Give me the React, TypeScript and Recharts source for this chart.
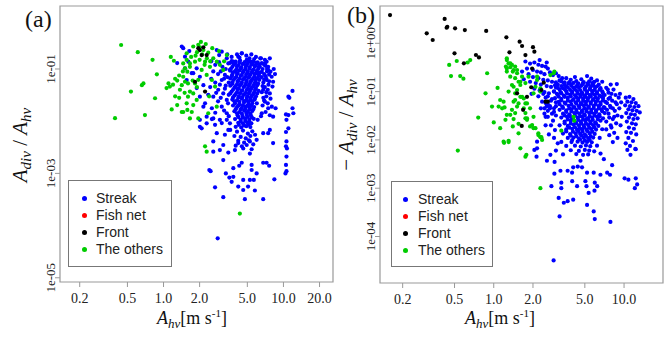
import { ScatterChart, Scatter, XAxis, YAxis, ReferenceArea, Legend } from 'recharts';

type Pt = [number, number];

const serif = "'Liberation Serif', 'DejaVu Serif', serif";
const sans = "'Liberation Sans', Arial, sans-serif";

// axis ticks (log scales)
const xTicksA = [0.2, 0.5, 1, 2, 5, 10, 20];
const yTicksA = [1e-1, 1e-3, 1e-5];
const xTicksB = [0.2, 0.5, 1, 2, 5, 10];
const yTicksB = [1, 1e-1, 1e-2, 1e-3, 1e-4];

const xDomainA: [number, number] = [0.137, 25.9];
const yDomainA: [number, number] = [8.3e-6, 1.61];
const xDomainB: [number, number] = [0.134, 19.9];
const yDomainB: [number, number] = [1.09e-5, 5.92];

const seriesNames = ['Streak', 'Fish net', 'Front', 'The others'];
const seriesColors = ['#0000ff', '#ff0000', '#000000', '#00cc00'];

// ---- panel (a): A_div / A_hv against A_hv ----
const streakA: Pt[] = [
  [3.7,0.142],[4.0,0.138],[4.35,0.145],[4.75,0.136],[5.15,0.141],[5.6,0.139],[6.1,0.134],
  [3.85,0.121],[4.2,0.118],[4.55,0.124],[4.95,0.119],[5.4,0.122],[5.85,0.117],[6.3,0.12],
  [3.65,0.101],[4.05,0.098],[4.4,0.103],[4.8,0.099],[5.2,0.102],[5.65,0.097],[6.15,0.1],
  [3.8,0.086],[4.15,0.083],[4.6,0.087],[5.0,0.084],[5.45,0.086],[5.9,0.082],[6.35,0.085],
  [3.7,0.073],[4.05,0.071],[4.4,0.074],[4.8,0.07],[5.2,0.072],[5.7,0.071],[6.2,0.073],
  [3.85,0.062],[4.2,0.06],[4.6,0.063],[4.95,0.059],[5.4,0.061],[5.85,0.06],[6.3,0.062],
  [3.75,0.052],[4.1,0.051],[4.45,0.053],[4.85,0.05],[5.25,0.052],[5.7,0.051],[6.15,0.053],
  [3.9,0.044],[4.25,0.043],[4.65,0.045],[5.05,0.042],[5.45,0.044],[5.9,0.043],
  [3.7,0.037],[4.1,0.036],[4.45,0.038],[4.85,0.035],[5.25,0.037],[5.7,0.036],[6.2,0.038],
  [3.9,0.031],[4.25,0.03],[4.65,0.032],[5.0,0.03],[5.45,0.031],[5.9,0.03],
  [3.75,0.026],[4.1,0.025],[4.5,0.027],[4.9,0.025],[5.3,0.026],[5.75,0.026],
  [3.95,0.022],[4.3,0.021],[4.7,0.023],[5.1,0.021],[5.5,0.022],[6.0,0.022],
  [4.1,0.0186],[4.5,0.018],[4.85,0.019],[5.25,0.0182],[5.7,0.0187],
  [3.9,0.0155],[4.3,0.015],[4.7,0.016],[5.05,0.0152],[5.5,0.0157],
  [4.15,0.013],[4.55,0.0126],[4.95,0.0133],[5.35,0.0128],
  [3.95,0.011],[4.4,0.0107],[4.8,0.0112],[5.2,0.0108],[5.65,0.0111],
  [4.2,0.0093],[4.6,0.009],[5.0,0.0094],[5.4,0.0091],
  [4.0,0.0078],[4.45,0.0076],[4.9,0.008],[5.3,0.0077],
  // denser middle of the main cloud
  [3.6,0.131],[3.95,0.128],[4.3,0.132],[4.65,0.127],[5.05,0.13],[5.5,0.128],[5.95,0.131],
  [3.75,0.11],[4.1,0.112],[4.45,0.108],[4.85,0.111],[5.25,0.109],[5.75,0.112],[6.2,0.109],
  [3.6,0.093],[3.95,0.091],[4.3,0.094],[4.65,0.092],[5.05,0.09],[5.5,0.093],[6.0,0.091],
  [3.75,0.078],[4.1,0.08],[4.5,0.077],[4.9,0.079],[5.3,0.078],[5.75,0.08],[6.25,0.077],
  [3.6,0.066],[3.95,0.067],[4.3,0.065],[4.7,0.066],[5.1,0.068],[5.55,0.065],[6.0,0.066],
  [3.75,0.056],[4.15,0.057],[4.5,0.055],[4.9,0.056],[5.35,0.057],[5.8,0.055],
  [3.6,0.048],[4.0,0.047],[4.35,0.049],[4.75,0.047],[5.15,0.048],[5.6,0.047],[6.05,0.049],
  [3.8,0.04],[4.15,0.041],[4.55,0.039],[4.95,0.04],[5.35,0.041],[5.8,0.04],
  [3.6,0.034],[4.0,0.033],[4.35,0.034],[4.75,0.033],[5.15,0.034],[5.6,0.033],[6.05,0.034],
  [3.8,0.0285],[4.2,0.028],[4.55,0.029],[4.95,0.0278],[5.35,0.0285],[5.8,0.028],
  [3.9,0.024],[4.3,0.0235],[4.7,0.0243],[5.1,0.0237],[5.5,0.024],
  [3.8,0.02],[4.2,0.0198],[4.6,0.0203],[5.0,0.0197],[5.4,0.0201],
  [4.0,0.017],[4.4,0.0167],[4.8,0.0172],[5.2,0.0168],[5.6,0.017],
  [4.1,0.0142],[4.5,0.014],[4.9,0.0144],[5.3,0.014],
  [4.2,0.012],[4.6,0.0118],[5.0,0.0121],[5.45,0.0119],
  [4.4,0.0099],[4.8,0.0101],[5.2,0.0098],
  [4.25,0.0085],[4.7,0.0083],[5.1,0.0086],
  [3.6,0.0068],[4.1,0.0063],[4.6,0.0066],[5.05,0.0058],[5.5,0.0064],[3.9,0.0052],[4.4,0.005],
  [4.85,0.0047],[5.3,0.0052],[5.8,0.0055],[4.2,0.0042],[4.7,0.0039],[5.15,0.0043],[4.5,0.0033],
  [4.0,0.0034],[5.6,0.0036],
  [3.7,0.17],[4.1,0.19],[4.5,0.2],[4.9,0.18],[5.4,0.19],[5.9,0.17],[6.4,0.16],[3.4,0.19],
  [7.0,0.15],[4.3,0.165],[5.2,0.16],[5.7,0.155],
  [1.51,0.172],[1.61,0.138],[1.46,0.25],[1.72,0.083],[1.56,0.0615],[1.89,0.103],[2.01,0.071],
  [2.15,0.049],[2.36,0.032],[2.22,0.022],[2.53,0.0177],[2.6,0.0295],[2.86,0.04],[3.06,0.0615],
  [3.25,0.077],[3.58,0.096],[3.47,0.128],[3.82,0.138],[4.2,0.172],[4.49,0.2],[4.94,0.149],
  [5.43,0.138],[5.98,0.128],[6.36,0.11],[7.0,0.128],[7.46,0.096],[7.98,0.071],[7.24,0.0615],
  [6.78,0.04],[7.7,0.034],[7.0,0.0237],[7.46,0.0177],[6.6,0.0142],[8.2,0.0122],[6.1,0.0106],
  [11.0,0.0295],[3.15,0.034],[3.37,0.0255],[3.06,0.019],[3.37,0.0142],[2.95,0.0106],[3.58,0.0091],
  [2.6,0.0113],[2.29,0.0091],[2.01,0.0078],[2.78,0.23],[3.06,0.215],[3.37,0.16],
  [1.42,0.27],[1.64,0.22],[1.3,0.13],[1.51,0.103],[1.77,0.083],[1.89,0.043],[2.01,0.0295],
  [2.15,0.019],[2.29,0.0122],[2.01,0.0106],[2.08,0.0073],[2.91,0.185],
  [7.24,0.138],[7.46,0.11],[7.8,0.089],[8.2,0.057],[8.1,0.046],[11.9,0.038],[11.2,0.028],
  [11.9,0.0177],[12.1,0.0142],[8.6,0.0177],[10.5,0.0135],[10.4,0.001],[10.5,0.0062],[10.7,0.003],
  [2.53,0.011],[2.69,0.0085],[3.06,0.0092],[3.37,0.0106],[3.47,0.0068],[3.25,0.0055],[2.78,0.0059],
  [2.6,0.0041],[3.15,0.0035],[2.95,0.0028],[3.47,0.0025],[3.94,0.0028],[4.2,0.0038],[4.62,0.003],
  [4.94,0.0035],[5.43,0.0029],[5.25,0.0041],[5.98,0.0044],[6.78,0.0059],[7.46,0.0059],[7.7,0.0068],
  [8.2,0.0038],[10.6,0.0041],[11.0,0.0073],[10.6,0.0106],[11.0,0.0131],[10.5,0.0033],[10.6,0.0021],
  [10.5,0.00145],[10.6,0.0011],[8.4,0.00077],[6.78,0.0016],[7.24,0.0016],[7.6,0.0014],[5.43,0.00116],
  [5.98,0.001],[5.25,0.00075],[5.66,0.00075],[4.62,0.00075],[4.2,0.00056],[4.62,0.00048],[5.07,0.00056],
  [5.78,0.00047],[3.7,0.00069],[3.54,0.00083],[3.82,0.00086],[3.31,0.001],[3.15,0.0018],[2.41,0.00116],
  [2.47,0.0011],[2.69,0.00054],[3.15,0.00035],[4.77,0.00032],[6.78,0.00032],[3.82,0.00126],
  [4.28,0.0014],[4.49,0.0016],[5.43,0.00145],[2.6,0.0026],[5.25,0.0024],[2.83,5.7e-5],
  [2.5,0.14],[2.7,0.12],[2.9,0.135],[3.1,0.11],[3.3,0.1],[2.6,0.09],[2.85,0.08],[3.0,0.09],
  [3.2,0.065],[3.4,0.07],[2.5,0.065],[2.7,0.055],[2.95,0.05],[3.3,0.048],[3.5,0.055],[2.45,0.045],
  [2.75,0.035],[3.0,0.028],[3.25,0.042],[3.5,0.032],[3.45,0.022],[2.85,0.024],[3.2,0.016],
  [3.5,0.0125],[2.7,0.0145],
  [6.6,0.13],[7.1,0.115],[6.7,0.1],[7.3,0.09],[6.9,0.08],[7.6,0.078],[6.6,0.07],[7.2,0.065],
  [6.8,0.055],[7.5,0.05],[7.0,0.045],[6.6,0.036],[7.2,0.03],[7.8,0.027],[6.8,0.028],[7.4,0.022],
  [6.7,0.02],[8.0,0.019],[7.1,0.015],[7.7,0.013],[6.5,0.0125],[8.3,0.1],[8.5,0.08],[6.5,0.16],[7.7,0.16],
  [6.9,0.12],[7.3,0.1],[6.6,0.088],[7.1,0.073],[6.9,0.062],[7.4,0.04],[6.7,0.047],[7.2,0.036],
  [6.9,0.025],[7.6,0.058],
];

const othersA: Pt[] = [
  [0.443,0.288],[0.61,0.21],[0.81,0.15],[1.15,0.17],[1.22,0.144],[0.88,0.079],[0.68,0.053],
  [0.66,0.049],[0.535,0.037],[0.85,0.0275],[1.1,0.053],[1.13,0.046],[1.06,0.043],[1.3,0.06],
  [1.42,0.049],[1.51,0.057],[1.37,0.04],[1.17,0.0168],[1.3,0.0204],[0.394,0.0114],[0.7,0.0131],
  [1.46,0.015],[1.58,0.0164],[1.6,0.0295],[1.66,0.037],[1.77,0.0204],[1.66,0.0113],[1.58,0.089],
  [1.66,0.11],[1.46,0.128],[1.56,0.149],[1.83,0.053],[1.95,0.062],
  [1.56,0.2],[1.77,0.27],[1.95,0.29],[2.01,0.26],[2.15,0.23],[2.36,0.205],[2.6,0.16],[2.78,0.138],
  [2.95,0.12],[3.37,0.185],[3.15,0.096],[1.51,0.103],[1.66,0.128],[1.83,0.138],[1.46,0.071],
  [1.6,0.053],[1.77,0.034],[1.89,0.0255],[1.56,0.022],[1.42,0.015],[1.72,0.015],[1.95,0.0113],
  [2.08,0.096],[2.29,0.077],[2.44,0.11],[2.22,0.138],[2.53,0.0615],[2.69,0.046],[2.78,0.019],
  [2.36,0.0142],[2.29,0.0026],[2.22,0.0033],[4.33,0.00017],
  [1.9,0.21],[2.1,0.19],[2.3,0.16],[2.0,0.15],[2.2,0.12],[1.85,0.18],[2.45,0.14],[2.05,0.33],
  [2.25,0.3],[1.7,0.17],[2.55,0.25],[2.9,0.22],[3.2,0.14],[1.75,0.06],[1.9,0.045],[2.4,0.03],
  [1.2,0.05],[1.25,0.065],[1.35,0.075],[1.45,0.09],[1.5,0.035],[1.35,0.028],[1.25,0.03],
];

const frontA: Pt[] = [
  [2.01,0.23],[2.08,0.185],[2.29,0.185],[1.83,0.057],[2.22,0.037],[2.15,0.26],[1.95,0.25],
];

const fishNetA: Pt[] = [];

// ---- panel (b): -A_div / A_hv against A_hv ----
const streakB: Pt[] = [
  [1.75,0.42],[1.9,0.38],[2.05,0.4],[2.2,0.36],[2.35,0.34],[2.5,0.33],[2.6,0.3],[1.8,0.3],
  [2.0,0.28],[2.15,0.26],[2.3,0.25],[2.45,0.23],[2.7,0.25],[2.85,0.22],[3.0,0.24],[3.15,0.21],
  [2.0,0.2],[2.2,0.19],[2.4,0.175],[2.6,0.17],[2.8,0.16],[3.0,0.155],[3.2,0.17],[1.7,0.18],
  [1.9,0.16],[2.1,0.15],[2.3,0.14],[2.55,0.13],[2.75,0.125],[2.95,0.135],[3.1,0.12],[2.05,0.115],
  [2.25,0.105],[2.45,0.098],[2.65,0.092],[2.9,0.1],[3.05,0.09],[2.2,0.08],[2.5,0.075],[2.8,0.07],
  [1.95,0.09],[2.35,0.062],[2.6,0.055],[3.0,0.06],[1.85,0.23],[1.65,0.26],[2.25,0.45],[2.55,0.4],
  [3.35,0.19],[3.5,0.155],
  [3.6,0.19],[4.2,0.2],[4.7,0.18],[5.2,0.21],[5.6,0.185],[6.2,0.17],[6.8,0.16],[3.9,0.175],
  [3.3,0.162],[3.8,0.158],[4.3,0.165],[4.9,0.157],[5.4,0.163],[5.9,0.159],
  [3.1,0.141],[3.5,0.138],[3.9,0.143],[4.4,0.137],[4.8,0.142],[5.3,0.139],[5.8,0.136],[6.4,0.14],
  [3.0,0.121],[3.4,0.118],[3.7,0.123],[4.1,0.119],[4.5,0.122],[5.0,0.117],[5.5,0.12],[6.0,0.122],
  [6.6,0.118],[7.3,0.12],
  [2.9,0.101],[3.25,0.098],[3.6,0.102],[4.0,0.099],[4.35,0.103],[4.75,0.097],[5.2,0.1],[5.7,0.102],
  [6.2,0.098],[6.8,0.101],
  [3.1,0.086],[3.45,0.083],[3.85,0.087],[4.2,0.084],[4.6,0.086],[5.0,0.082],[5.45,0.085],[5.95,0.087],
  [6.5,0.083],[7.1,0.085],
  [2.95,0.073],[3.3,0.071],[3.7,0.074],[4.1,0.07],[4.45,0.072],[4.85,0.071],[5.3,0.073],[5.8,0.07],
  [6.3,0.072],[6.9,0.074],[7.6,0.071],
  [3.15,0.061],[3.5,0.059],[3.9,0.062],[4.25,0.06],[4.65,0.058],[5.1,0.061],[5.55,0.06],[6.05,0.062],
  [6.6,0.059],[7.2,0.061],
  [3.0,0.05],[3.35,0.049],[3.75,0.051],[4.1,0.048],[4.5,0.05],[4.9,0.052],[5.35,0.049],[5.85,0.051],
  [6.4,0.05],[7.0,0.048],[7.8,0.051],
  [3.2,0.042],[3.6,0.041],[3.95,0.043],[4.3,0.042],[4.75,0.04],[5.15,0.043],[5.6,0.042],[6.1,0.041],
  [6.7,0.043],[7.4,0.042],
  [3.4,0.035],[3.8,0.034],[4.15,0.036],[4.55,0.035],[4.95,0.034],[5.4,0.036],[5.9,0.035],[6.45,0.034],
  [7.1,0.036],
  [3.3,0.029],[3.65,0.03],[4.0,0.028],[4.4,0.029],[4.8,0.03],[5.2,0.028],[5.7,0.029],[6.2,0.03],
  [6.9,0.028],[7.7,0.029],
  [3.5,0.024],[3.9,0.025],[4.25,0.023],[4.65,0.024],[5.05,0.025],[5.5,0.024],[6.0,0.023],[6.6,0.025],
  [7.3,0.024],
  [3.2,0.02],[3.7,0.0195],[4.1,0.0205],[4.5,0.02],[4.9,0.0198],[5.3,0.0203],[5.8,0.02],[6.35,0.0195],
  [3.6,0.0165],[4.0,0.017],[4.35,0.0162],[4.75,0.0167],[5.15,0.0163],[5.6,0.0168],[6.1,0.0164],[6.8,0.0166],
  [3.4,0.0135],[3.85,0.0132],[4.25,0.0137],[4.6,0.0134],[5.0,0.0131],[5.45,0.0136],[5.95,0.0133],
  [3.7,0.011],[4.1,0.0112],[4.5,0.0108],[4.9,0.0111],[5.3,0.0109],[5.8,0.0112],[6.5,0.011],
  [3.3,0.0091],[3.95,0.009],[4.4,0.0092],[4.8,0.0088],[5.2,0.0091],[5.65,0.0089],
  [3.6,0.0075],[4.2,0.0076],[4.65,0.0073],[5.1,0.0077],[5.5,0.0074],[6.2,0.0076],
  [3.0,0.006],[3.9,0.0061],[4.5,0.0059],[5.0,0.0062],[5.4,0.006],[5.9,0.0058],
  [3.4,0.005],[4.3,0.0051],[4.85,0.0049],[5.3,0.005],[6.6,0.0052],
  // denser middle of the main cloud
  [3.45,0.15],[3.75,0.148],[4.1,0.151],[4.45,0.149],[4.85,0.152],[5.25,0.148],[5.7,0.15],
  [3.3,0.13],[3.6,0.128],[3.95,0.131],[4.3,0.129],[4.7,0.132],[5.1,0.128],[5.6,0.13],[6.2,0.129],
  [3.2,0.11],[3.5,0.112],[3.85,0.109],[4.2,0.111],[4.6,0.108],[5.0,0.11],[5.45,0.112],[5.95,0.109],[6.5,0.11],
  [3.3,0.093],[3.65,0.091],[4.0,0.094],[4.4,0.092],[4.8,0.09],[5.2,0.093],[5.7,0.091],[6.2,0.092],[6.9,0.093],
  [3.15,0.079],[3.5,0.078],[3.9,0.08],[4.3,0.077],[4.65,0.079],[5.05,0.078],[5.55,0.08],[6.05,0.077],[6.7,0.079],
  [3.3,0.066],[3.7,0.065],[4.05,0.067],[4.45,0.066],[4.85,0.064],[5.25,0.066],[5.75,0.067],[6.25,0.065],[6.9,0.066],
  [3.2,0.055],[3.55,0.056],[3.95,0.054],[4.3,0.056],[4.7,0.055],[5.1,0.054],[5.55,0.056],[6.05,0.055],[6.6,0.054],
  [3.4,0.046],[3.8,0.045],[4.15,0.047],[4.55,0.046],[4.95,0.045],[5.35,0.047],[5.85,0.046],[6.4,0.045],[7.1,0.046],
  [3.6,0.038],[3.95,0.039],[4.35,0.037],[4.75,0.038],[5.15,0.039],[5.6,0.037],[6.1,0.038],[6.8,0.039],
  [3.5,0.032],[3.85,0.031],[4.2,0.032],[4.6,0.031],[5.0,0.032],[5.45,0.031],[5.95,0.032],[6.5,0.031],
  [3.7,0.0265],[4.05,0.027],[4.45,0.026],[4.85,0.0265],[5.3,0.027],[5.75,0.026],[6.3,0.0265],
  [3.5,0.022],[3.9,0.0218],[4.3,0.0223],[4.7,0.0219],[5.1,0.0222],[5.55,0.022],[6.1,0.0217],
  [3.8,0.018],[4.2,0.0183],[4.55,0.0178],[4.95,0.0181],[5.4,0.0179],[5.9,0.0182],
  [3.6,0.015],[4.05,0.0148],[4.45,0.0152],[4.8,0.0149],[5.25,0.0151],[5.7,0.0148],
  [3.9,0.0122],[4.3,0.012],[4.7,0.0123],[5.1,0.0121],[5.55,0.0119],
  [4.0,0.0099],[4.6,0.0101],[5.0,0.0098],[5.45,0.01],
  [7.9,0.14],[8.3,0.11],[7.6,0.095],[8.6,0.085],[8.1,0.065],[8.8,0.055],[7.9,0.047],[8.5,0.04],
  [8.9,0.032],[8.2,0.027],[8.7,0.022],[8.0,0.018],[8.4,0.014],[8.9,0.011],[7.7,0.0125],[8.2,0.009],
  [8.8,0.143],
  [7.5,0.11],[7.8,0.075],[7.4,0.058],[8.2,0.045],[7.6,0.035],[8.4,0.03],[7.9,0.02],[7.3,0.0165],
  [8.6,0.06],[8.0,0.09],
  [10.3,0.075],[11.0,0.078],[11.8,0.07],[10.6,0.062],[11.4,0.06],[12.3,0.058],[10.2,0.052],[11.1,0.05],
  [12.0,0.048],[12.9,0.05],[10.8,0.043],[11.6,0.041],[12.5,0.04],[10.4,0.036],[11.3,0.034],[12.1,0.033],
  [13.2,0.037],[10.9,0.029],[11.8,0.027],[12.7,0.028],[10.5,0.024],[11.5,0.022],[12.3,0.021],[10.9,0.018],
  [11.9,0.017],[10.4,0.0145],[11.3,0.014],[12.4,0.013],[10.8,0.011],[11.7,0.0095],[10.3,0.0085],
  [11.1,0.0075],[12.2,0.0065],[10.6,0.0062],
  [9.3,0.09],[9.5,0.06],[9.2,0.045],[9.6,0.03],[9.4,0.02],[9.1,0.075],
  [2.15,0.0067],[2.13,0.0045],[2.56,0.0037],[2.93,0.0035],[2.72,0.0049],[2.92,0.002],[3.25,0.0023],
  [3.69,0.0023],[3.99,0.0021],[4.07,0.0027],[4.63,0.0037],[4.41,0.0028],[4.76,0.0027],[5.2,0.0021],
  [5.85,0.0021],[6.59,0.0019],[7.42,0.0021],[7.8,0.0019],[8.1,0.003],[7.0,0.004],[10.1,0.0016],
  [10.8,0.0015],[12.3,0.0016],[12.6,0.0012],[12.1,0.001],[11.2,0.0049],[12.3,0.0064],[2.77,0.0011],
  [3.3,0.0013],[3.3,0.001],[4.0,0.0014],[4.36,0.0011],[5.05,0.0014],[5.15,0.0011],[5.96,0.0013],
  [6.22,0.0011],[5.93,0.00089],[5.35,0.0008],[3.15,0.00063],[3.45,0.0005],[3.69,0.00054],
  [4.07,0.00058],[5.2,0.00045],[5.85,0.00033],[5.96,0.00023],[7.86,0.0002],[3.2,0.00026],[2.88,3.2e-5],
  [2.15,0.0092],[2.05,0.0062],
  [2.7,0.045],[2.9,0.038],[2.6,0.03],[2.85,0.025],[2.75,0.02],[2.95,0.016],[2.65,0.013],[2.9,0.011],
  [3.1,0.0085],[2.5,0.02],[2.45,0.035],[2.55,0.05],[2.3,0.045],
  [2.4,0.09],[2.6,0.08],[2.75,0.065],[2.5,0.058],[2.7,0.05],[2.9,0.045],[2.45,0.045],[2.6,0.04],
  [2.8,0.035],[3.0,0.032],[2.5,0.03],
];

const othersB: Pt[] = [
  [0.455,0.356],[0.52,0.43],[0.63,0.4],[0.66,0.45],[0.47,0.21],[0.553,0.21],[0.585,0.185],[0.89,0.24],
  [1.07,0.119],[0.865,0.092],[0.97,0.049],[1.12,0.067],[1.19,0.062],[1.09,0.049],[1.21,0.047],
  [0.76,0.029],[1.0,0.023],[1.12,0.0175],[1.2,0.0087],[1.3,0.009],[0.53,0.006],[2.28,0.001],
  [1.6,0.0067],[1.78,0.0049],[1.34,0.033],[1.4,0.019],[1.55,0.0137],[1.8,0.028],[1.9,0.019],
  [2.09,0.0175],[2.2,0.0126],[2.32,0.0114],[4.1,0.03],[4.15,0.025],[2.92,0.26],
  [1.26,0.45],[1.3,0.385],[1.34,0.32],[1.26,0.26],[1.38,0.356],[1.46,0.33],[1.42,0.28],[1.51,0.24],
  [1.34,0.204],[1.46,0.19],[1.55,0.16],[1.6,0.137],[1.42,0.126],[1.3,0.1],[1.46,0.092],[1.6,0.078],
  [1.7,0.072],[1.42,0.062],[1.55,0.057],[1.75,0.057],[1.51,0.049],[1.7,0.045],[1.38,0.042],
  [1.46,0.036],[1.26,0.033],[1.16,0.045],[1.23,0.026],[1.42,0.027],[1.55,0.0215],[1.75,0.028],
  [1.8,0.026],[1.97,0.0203],[2.02,0.0175],[2.2,0.0137],[2.28,0.0114],[2.35,0.01],[1.19,0.0092],
  [1.3,0.0096],[1.75,0.0045],[3.3,0.0155],[2.72,0.22],[2.88,0.24],[2.15,0.204],[2.09,0.126],[2.28,0.1],
  [1.24,0.33],[1.51,0.28],[1.4,0.26],[1.65,0.204],[1.6,0.16],[1.75,0.15],[1.38,0.137],[1.51,0.108],
  [1.65,0.078],[1.8,0.057],[1.46,0.067],[1.9,0.045],[1.75,0.036],[2.02,0.03],[1.34,0.385],[1.26,0.3],
  [2.15,0.174],[2.28,0.117],[2.02,0.092],[1.85,0.204],[1.26,0.49],
];

const frontB: Pt[] = [
  [0.16,3.85],[0.306,1.61],[0.34,1.17],[0.42,3.2],[0.435,2.1],[0.44,2.2],[0.505,2.04],[0.6,1.88],
  [0.875,1.8],[0.5,0.62],[0.59,0.385],[0.73,0.573],[0.77,0.51],[1.25,1.33],[1.58,1.08],[1.65,0.88],
  [1.32,0.65],[1.75,0.57],[2.0,0.83],[2.05,0.67],[1.97,0.3],[1.51,0.092],[1.68,0.042],[1.64,0.0195],
  [1.8,0.078],[1.94,0.123],[2.32,0.108],[2.5,0.062],[2.6,0.062],[2.42,0.153],
];

const fishNetB: Pt[] = [];

const toPoints = (pts: Pt[]) => pts.map(([x, y]) => ({ x, y }));

const sciLabel = (v: number) => {
  const e = Math.round(Math.log10(v));
  return `1e${e < 0 ? '-' : '+'}${String(Math.abs(e)).padStart(2, '0')}`;
};

const Dot = (p: any) => <circle cx={p.cx} cy={p.cy} r={2.1} fill={p.fill} />;

const YTick = (p: any) => (
  <text
    transform={`translate(${p.x - 5},${p.y}) rotate(-90)`}
    textAnchor="middle"
    dy="0.35em"
    fontFamily={serif}
    fontSize={13}
    fill="#222"
  >
    {sciLabel(p.payload.value)}
  </text>
);

function LegendBox({ dotX, textX }: { dotX: number; textX: number }) {
  return (
    <div
      style={{
        width: '100%',
        height: '100%',
        boxSizing: 'border-box',
        border: '1px solid #777',
        background: '#fff',
        paddingTop: 9,
        fontFamily: sans,
        fontSize: 14,
        color: '#222',
      }}
    >
      {seriesNames.map((name, i) => (
        <div key={name} style={{ position: 'relative', height: 17, lineHeight: '17px' }}>
          <span
            style={{
              position: 'absolute',
              left: dotX - 2.5,
              top: 6,
              width: 5,
              height: 5,
              borderRadius: '50%',
              background: seriesColors[i],
            }}
          />
          <span style={{ position: 'absolute', left: textX }}>{name}</span>
        </div>
      ))}
    </div>
  );
}

type PanelProps = {
  width: number;
  yAxisWidth: number;
  rightMargin: number;
  xAxisHeight: number;
  xDomain: [number, number];
  yDomain: [number, number];
  xTicks: number[];
  yTicks: number[];
  streak: Pt[];
  fishNet: Pt[];
  front: Pt[];
  others: Pt[];
  legend: { left: number; top: number; width: number; height: number; dotX: number; textX: number };
  tag: string;
  tagPos: [number, number];
  yTitlePos: [number, number];
  yTitleMinus: boolean;
  xTitlePos: [number, number];
};

function Panel(props: PanelProps) {
  const { legend } = props;
  const [tx, ty] = props.tagPos;
  const [yx, yy] = props.yTitlePos;
  const [xx, xy] = props.xTitlePos;
  return (
    <ScatterChart
      width={props.width}
      height={338}
      margin={{ top: 6, right: props.rightMargin, bottom: 0, left: 0 }}
    >
      <XAxis
        dataKey="x"
        type="number"
        scale="log"
        domain={props.xDomain}
        allowDataOverflow
        ticks={props.xTicks}
        interval={0}
        tickFormatter={(v: number) => v.toFixed(1)}
        axisLine={false}
        tickLine={{ stroke: '#999' }}
        tickSize={5}
        tickMargin={6}
        height={props.xAxisHeight}
        tick={{ fontFamily: serif, fontSize: 14, fill: '#222' }}
      />
      <YAxis
        dataKey="y"
        type="number"
        scale="log"
        domain={props.yDomain}
        allowDataOverflow
        ticks={props.yTicks}
        interval={0}
        axisLine={false}
        tickLine={{ stroke: '#999' }}
        tickSize={5}
        tickMargin={0}
        width={props.yAxisWidth}
        tick={<YTick />}
      />
      <ReferenceArea
        x1={props.xDomain[0]}
        x2={props.xDomain[1]}
        y1={props.yDomain[0]}
        y2={props.yDomain[1]}
        fill="none"
        stroke="#999"
        strokeWidth={1.2}
        ifOverflow="visible"
      />
      <Scatter name="Streak" data={toPoints(props.streak)} fill={seriesColors[0]} shape={Dot} isAnimationActive={false} />
      <Scatter name="The others" data={toPoints(props.others)} fill={seriesColors[3]} shape={Dot} isAnimationActive={false} />
      <Scatter name="Front" data={toPoints(props.front)} fill={seriesColors[2]} shape={Dot} isAnimationActive={false} />
      <Scatter name="Fish net" data={toPoints(props.fishNet)} fill={seriesColors[1]} shape={Dot} isAnimationActive={false} />
      <Legend
        layout="horizontal"
        verticalAlign="middle"
        align="center"
        wrapperStyle={{ left: legend.left, top: legend.top, width: legend.width, height: legend.height }}
        content={() => <LegendBox dotX={legend.dotX} textX={legend.textX} />}
      />
      <text x={tx} y={ty} fontFamily={serif} fontSize={24} fill="#111">
        {props.tag}
      </text>
      <text
        transform={`translate(${yx},${yy}) rotate(-90)`}
        textAnchor="middle"
        dy="0.3em"
        fontFamily={serif}
        fontSize={21}
        fill="#111"
      >
        {props.yTitleMinus ? <tspan>{'\u2212 '}</tspan> : null}
        <tspan fontStyle="italic">A</tspan>
        <tspan fontStyle="italic" fontSize={15} dy={4}>div</tspan>
        <tspan dy={-4}>{' / '}</tspan>
        <tspan fontStyle="italic">A</tspan>
        <tspan fontStyle="italic" fontSize={15} dy={4}>hv</tspan>
      </text>
      <text x={xx} y={xy} textAnchor="middle" fontFamily={serif} fontSize={18} fill="#111">
        <tspan fontStyle="italic">A</tspan>
        <tspan fontStyle="italic" fontSize={13} dy={4}>hv</tspan>
        <tspan dy={-4}>[m s</tspan>
        <tspan fontSize={11} dy={-7}>-1</tspan>
        <tspan dy={7}>]</tspan>
      </text>
    </ScatterChart>
  );
}

export default function App() {
  return (
    <div style={{ position: 'absolute', left: 0, top: 0, width: 667, height: 338, background: '#fff' }}>
      <div style={{ position: 'absolute', left: 0, top: 0 }}>
        <Panel
          width={340}
          yAxisWidth={60}
          rightMargin={7}
          xAxisHeight={56}
          xDomain={xDomainA}
          yDomain={yDomainA}
          xTicks={xTicksA}
          yTicks={yTicksA}
          streak={streakA}
          fishNet={fishNetA}
          front={frontA}
          others={othersA}
          legend={{ left: 68, top: 180, width: 104, height: 87, dotX: 15, textX: 27 }}
          tag="(a)"
          tagPos={[25, 27]}
          yTitlePos={[21, 145]}
          yTitleMinus={false}
          xTitlePos={[192, 324]}
        />
      </div>
      <div style={{ position: 'absolute', left: 335, top: 0 }}>
        <Panel
          width={332}
          yAxisWidth={45}
          rightMargin={4}
          xAxisHeight={55}
          xDomain={xDomainB}
          yDomain={yDomainB}
          xTicks={xTicksB}
          yTicks={yTicksB}
          streak={streakB}
          fishNet={fishNetB}
          front={frontB}
          others={othersB}
          legend={{ left: 56, top: 181, width: 102, height: 86, dotX: 13, textX: 26 }}
          tag="(b)"
          tagPos={[12, 23]}
          yTitlePos={[12, 125]}
          yTitleMinus={true}
          xTitlePos={[165, 324]}
        />
      </div>
    </div>
  );
}
